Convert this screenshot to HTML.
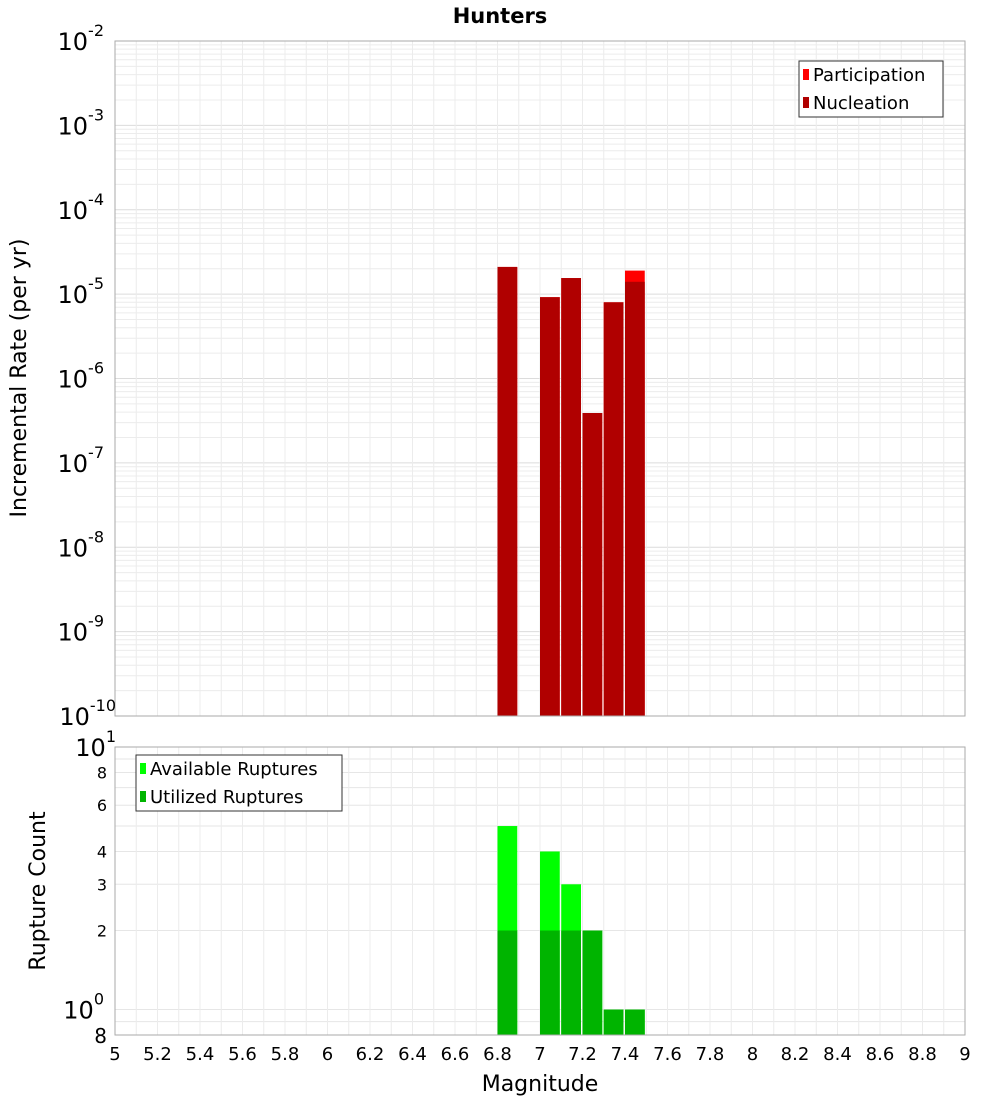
<!DOCTYPE html>
<html><head><meta charset="utf-8"><style>
body{margin:0;background:#fff;}
svg{font-family:"DejaVu Sans","Liberation Sans",sans-serif;}
</style></head><body>
<svg id="chart" width="1000" height="1100" xmlns="http://www.w3.org/2000/svg"></svg>
<script>
const mags = [6.8, 7.0, 7.1, 7.2, 7.3, 7.4];
const participation = [2.1e-5, 9.2e-6, 1.55e-5, 3.9e-7, 8.0e-6, 1.9e-5];
const nucleation = [2.1e-5, 9.2e-6, 1.55e-5, 3.9e-7, 8.0e-6, 1.4e-5];
const available = [5, 4, 3, 2, 1, 1];
const utilized = [2, 2, 2, 2, 1, 1];
const xTicks = [5,5.2,5.4,5.6,5.8,6,6.2,6.4,6.6,6.8,7,7.2,7.4,7.6,7.8,8,8.2,8.4,8.6,8.8,9];
const topExps = [-2,-3,-4,-5,-6,-7,-8,-9,-10];
const botMinorLabels = [8,6,4,3,2];

const NS="http://www.w3.org/2000/svg";
const svg=document.getElementById('chart');
function el(tag,attrs,parent){const e=document.createElementNS(NS,tag);for(const k in attrs)e.setAttribute(k,attrs[k]);(parent||svg).appendChild(e);return e;}
const X0=115,X1=965;
const x=m=>X0+(m-5)/4*(X1-X0);
const T0=41,T1=716;
const yTop=v=>T1-(Math.log10(v)+10)/8*(T1-T0);
const B0=747,B1=1035;
const LMIN=Math.log10(0.8),LMAX=1;
const yBot=v=>B1-(Math.log10(v)-LMIN)/(LMAX-LMIN)*(B1-B0);

let t=el('text',{x:500,y:23,'text-anchor':'middle','font-size':21,'font-weight':'bold'});t.textContent='Hunters';


let g=el('g',{});
for(let e=-10;e<-2;e++){for(let k=1;k<10;k++){const yy=yTop(k*Math.pow(10,e));el('line',{x1:X0,x2:X1,y1:yy,y2:yy,stroke:k==1?'#dcdcdc':'#ececec','stroke-width':1},g);}}
for(let m=5;m<=9.001;m+=0.1){el('line',{x1:x(m),x2:x(m),y1:T0,y2:T1,stroke:'#ececec'},g);}
let g2=el('g',{});
[0.8,0.9,1,2,3,4,5,6,7,8,9,10].forEach(v=>{const yy=yBot(v);el('line',{x1:X0,x2:X1,y1:yy,y2:yy,stroke:'#e6e6e6'},g2);});
for(let m=5;m<=9.001;m+=0.1){el('line',{x1:x(m),x2:x(m),y1:B0,y2:B1,stroke:'#ececec'},g2);}

const bw=x(5.1)-x(5)-1.5;
mags.forEach((m,i)=>{
  let r=el('rect',{x:x(m),y:yTop(participation[i]),width:bw,height:T1-yTop(participation[i]),fill:'#ff0000'});
  
  r=el('rect',{x:x(m),y:yTop(nucleation[i]),width:bw,height:T1-yTop(nucleation[i]),fill:'#b00000'});
  
});
mags.forEach((m,i)=>{
  let r=el('rect',{x:x(m),y:yBot(available[i]),width:bw,height:B1-yBot(available[i]),fill:'#00ff00'});
  
  r=el('rect',{x:x(m),y:yBot(utilized[i]),width:bw,height:B1-yBot(utilized[i]),fill:'#00b400'});
  
});

let f=el('rect',{x:X0,y:T0,width:X1-X0,height:T1-T0,fill:'none',stroke:'#aaa'});

f=el('rect',{x:X0,y:B0,width:X1-X0,height:B1-B0,fill:'none',stroke:'#aaa'});


topExps.forEach(e=>{
  const yy=yTop(Math.pow(10,e));
  const tx=el('text',{x:104,y:yy+9,'text-anchor':'end','font-size':24});
  
  const a=el('tspan',{},tx);a.textContent='10';
  const b=el('tspan',{dy:-14,'font-size':16},tx);b.textContent=String(e);
  if(e==-10){tx.setAttribute('x',116);}
});
[[10,'1'],[1,'0']].forEach(([v,e])=>{
  const yy=yBot(v);
  const tx=el('text',{x:104,y:yy+9,'text-anchor':'end','font-size':24});
  
  const a=el('tspan',{},tx);a.textContent='10';
  const b=el('tspan',{dy:-14,'font-size':16},tx);b.textContent=e;
  if(v==10) tx.setAttribute('x',116);
});
botMinorLabels.forEach(v=>{
  const tx=el('text',{x:107,y:yBot(v)+6,'text-anchor':'end','font-size':16});
  tx.textContent=v;
  
});
t=el('text',{x:107,y:B1+8,'text-anchor':'end','font-size':20});t.textContent='8';


xTicks.forEach(m=>{
  const tx=el('text',{x:x(m),y:1060,'text-anchor':'middle','font-size':18});
  tx.textContent=String(m);
  
});
t=el('text',{x:540,y:1091,'text-anchor':'middle','font-size':22});t.textContent='Magnitude';

t=el('text',{x:0,y:0,'text-anchor':'middle','font-size':22,transform:'translate(26,378) rotate(-90)'});t.textContent='Incremental Rate (per yr)';

t=el('text',{x:0,y:0,'text-anchor':'middle','font-size':22,transform:'translate(45,891) rotate(-90)'});t.textContent='Rupture Count';


function legend(x0,y0,w,items,name){
  const lg=el('g',{});
  el('rect',{x:x0,y:y0,width:w,height:items.length*28,fill:'#fff',stroke:'#333'},lg);
  items.forEach(([c,s],i)=>{
    el('rect',{x:x0+4,y:y0+8+i*28,width:6,height:11,fill:c},lg);
    const tt=el('text',{x:x0+14,y:y0+20+i*28,'font-size':18},lg);tt.textContent=s;
  });
}
legend(799,61,144,[['#ff0000','Participation'],['#b00000','Nucleation']],'top-legend');
legend(136,755,206,[['#00ff00','Available Ruptures'],['#00b400','Utilized Ruptures']],'bottom-legend');
</script>
</body></html>
